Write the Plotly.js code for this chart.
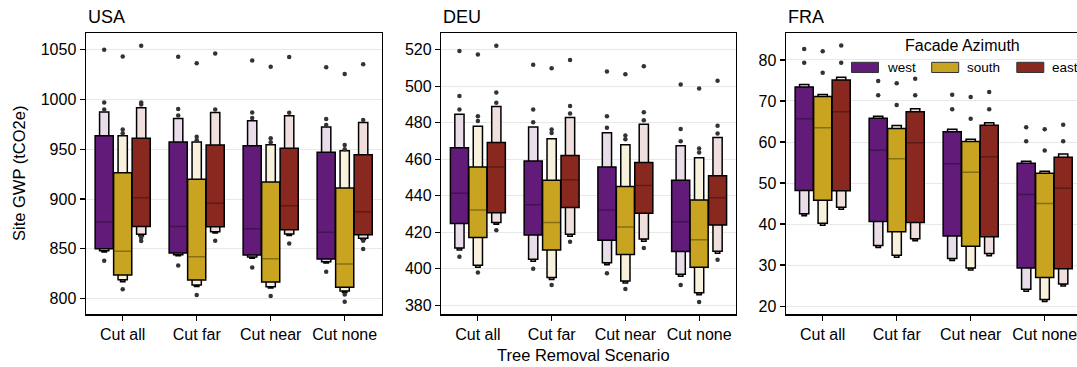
<!DOCTYPE html>
<html>
<head>
<meta charset="utf-8">
<script src="https://cdn.plot.ly/plotly-3.0.1.min.js"></script>
<style>
html,body{margin:0;padding:0;overflow:hidden;background:#fff;}
#chart{width:1100px;height:367px;}
</style>
</head>
<body>
<div id="chart"></div>
<script>
// ---------- DATA ----------
const scenarios = ["Cut all", "Cut far", "Cut near", "Cut none"];
const azimuths = ["west", "south", "east"];
const countries = ["USA", "DEU", "FRA"];
// order of 12 values: for each scenario -> west, south, east

const USA_q75 = [963.6, 926.5, 961.0, 957.3, 920.0, 954.3, 953.6, 917.1, 951.0, 947.0, 911.1, 944.6];
const USA_q25 = [850.2, 823.7, 872.6, 845.8, 818.7, 872.3, 843.8, 816.7, 869.3, 839.8, 811.4, 864.2];
const USA_med = [877.0, 847.5, 901.4, 872.6, 842.2, 895.7, 870.3, 840.1, 893.4, 866.6, 834.8, 887.3];
const USA_hi2 = [987.4, 963.6, 991.8, 981.0, 957.3, 987.0, 978.7, 954.6, 983.7, 972.4, 948.6, 977.0];
const USA_lo2 = [848.0, 819.0, 864.6, 844.2, 813.7, 867.3, 841.8, 812.0, 865.0, 837.1, 807.7, 860.6];
const USA_lo3 = [846.8, 817.0, 863.0, 843.0, 812.3, 866.0, 840.5, 810.6, 863.5, 835.8, 806.3, 859.3];
const USA_out = [
  [1050, 997, 990, 838], [1043.3, 970, 966, 809.5], [1054, 997, 995, 861, 858],
  [1043, 990.4, 984, 833.4], [1036.3, 962.6, 959, 803.7], [1046.3, 990, 858.2],
  [1039.3, 987, 981.5, 831.4], [1033, 961, 957, 802.7], [1042.6, 986.7, 855.5],
  [1032.3, 980.4, 974.4, 827], [1025.6, 954.3, 950, 804.3, 797], [1035.3, 979.4, 858.2, 850]
];

const DEU_q75 = [466.3, 455.7, 469.2, 459.0, 448.4, 462.0, 455.7, 445.1, 458.2, 448.4, 437.6, 450.9];
const DEU_q25 = [424.8, 417.1, 430.6, 418.4, 410.3, 433.5, 415.6, 407.8, 430.4, 409.4, 400.8, 423.9];
const DEU_med = [441.4, 432.1, 455.7, 435.0, 425.3, 448.7, 432.1, 422.8, 445.6, 425.7, 415.8, 438.9];
const DEU_hi2 = [484.7, 478.1, 488.9, 477.6, 471.2, 482.9, 474.5, 467.9, 479.2, 467.4, 460.8, 471.9];
const DEU_lo2 = [411.4, 401.9, 425.3, 405.2, 395.2, 418.9, 403.2, 393.3, 416.2, 397.0, 386.8, 409.6];
const DEU_lo3 = [410.2, 400.8, 424.3, 404.1, 394.1, 417.8, 402.1, 392.2, 415.1, 395.9, 385.7, 408.5];
const DEU_out = [
  [519.3, 494.6, 487.3, 406.5], [517.4, 483.6, 481, 397.9], [522.2, 496.6, 491, 421.1],
  [511.8, 487.3, 480.3, 400], [509.8, 476.3, 474.3, 391], [514.3, 489.1, 485.1, 414.7],
  [508.1, 483.6, 477.2, 397.5], [506.5, 473, 471, 388.8], [510.9, 485.8, 481.4, 411.4],
  [501, 476.5, 469.9, 391], [498.8, 465.9, 463.7, 381.8], [503, 478.3, 474.1, 404.9]
];

const FRA_q75 = [73.4, 71.1, 75.1, 65.8, 63.3, 67.4, 62.5, 60.1, 64.1, 54.8, 52.4, 56.3];
const FRA_q25 = [48.2, 45.8, 48.1, 40.6, 38.1, 40.4, 37.1, 34.6, 36.9, 29.3, 27.0, 29.1];
const FRA_med = [65.7, 63.5, 67.4, 58.0, 55.9, 59.8, 54.7, 52.6, 56.4, 47.2, 45.0, 48.7];
const FRA_hi2 = [74.0, 71.6, 75.8, 66.3, 64.0, 68.1, 63.1, 60.7, 64.7, 55.3, 52.9, 57.1];
const FRA_lo2 = [42.5, 40.2, 44.1, 34.8, 32.4, 36.4, 31.6, 29.3, 32.8, 24.1, 21.6, 25.4];
const FRA_lo3 = [42.0, 39.7, 43.6, 34.3, 31.9, 35.9, 31.1, 28.8, 32.3, 23.6, 21.1, 24.9];
const FRA_out = [
  [82.7, 79.3], [82.1, 76.9], [83.5, 79.3],
  [74.9, 71.4], [74.3, 69.0], [75.4, 71.4],
  [71.5, 68.0], [71.0, 65.7], [72.2, 68.0],
  [63.6, 60.2], [63.1, 57.9], [64.2, 60.2]
];

// ---------- STYLE ----------
const W = 1100, H = 367;
const mainColors = ["#631b7a", "#c8a421", "#88281e"];
const lightColors = ["#e8dde9", "#f8f2dc", "#efdfdd"];
const offsets = [-0.25, 0, 0.25];
const wMain = 0.245, w2 = 0.125, w3 = 0.06;
const FONT = "Liberation Sans, Arial, sans-serif";

const panels = [
  {name: "USA", q75: USA_q75, q25: USA_q25, med: USA_med, hi2: USA_hi2, lo2: USA_lo2, lo3: USA_lo3, out: USA_out,
   xa: "x", ya: "y", dom: [85.7, 381.7], range: [784.3, 1066.5], dtick: 50},
  {name: "DEU", q75: DEU_q75, q25: DEU_q25, med: DEU_med, hi2: DEU_hi2, lo2: DEU_lo2, lo3: DEU_lo3, out: DEU_out,
   xa: "x2", ya: "y2", dom: [441, 736], range: [375, 529], dtick: 20},
  {name: "FRA", q75: FRA_q75, q25: FRA_q25, med: FRA_med, hi2: FRA_hi2, lo2: FRA_lo2, lo3: FRA_lo3, out: FRA_out,
   xa: "x3", ya: "y3", dom: [785.7, 1081.7], range: [18, 86.5], dtick: 10}
];

const traces = [];
panels.forEach(p => {
  azimuths.forEach((az, j) => {
    const idx = scenarios.map((s, i) => i * 3 + j);
    const xs = scenarios.map((s, i) => i + offsets[j]);
    const line = {color: "#000", width: 1.5};
    // level 3 (bottom tiny)
    traces.push({type: "bar", xaxis: p.xa, yaxis: p.ya, x: xs,
      base: idx.map(k => p.lo3[k]), y: idx.map(k => p.lo2[k] - p.lo3[k]),
      width: xs.map(() => w3), marker: {color: lightColors[j], line: line},
      showlegend: false, hoverinfo: "skip"});
    // level 2
    traces.push({type: "bar", xaxis: p.xa, yaxis: p.ya, x: xs,
      base: idx.map(k => p.lo2[k]), y: idx.map(k => p.hi2[k] - p.lo2[k]),
      width: xs.map(() => w2), marker: {color: lightColors[j], line: line},
      showlegend: false, hoverinfo: "skip"});
    // main box
    traces.push({type: "bar", xaxis: p.xa, yaxis: p.ya, x: xs,
      base: idx.map(k => p.q25[k]), y: idx.map(k => p.q75[k] - p.q25[k]),
      width: xs.map(() => wMain), marker: {color: mainColors[j], line: line},
      name: az, showlegend: false, hoverinfo: "skip"});
    // median
    const mx = [], my = [];
    idx.forEach((k, i) => {
      mx.push(xs[i] - wMain / 2 + 0.01, xs[i] + wMain / 2 - 0.01, null);
      my.push(p.med[k], p.med[k], null);
    });
    traces.push({type: "scatter", mode: "lines", xaxis: p.xa, yaxis: p.ya, x: mx, y: my,
      line: {color: "rgba(0,0,0,0.32)", width: 1.5}, showlegend: false, hoverinfo: "skip"});
    // outliers
    const ox = [], oy = [];
    idx.forEach((k, i) => {
      p.out[k].forEach(v => { ox.push(xs[i]); oy.push(v); });
    });
    traces.push({type: "scatter", mode: "markers", xaxis: p.xa, yaxis: p.ya, x: ox, y: oy,
      marker: {color: "#333333", size: 4.5}, showlegend: false, hoverinfo: "skip"});
  });
});

const layout = {
  width: W, height: H,
  margin: {l: 0, r: 0, t: 0, b: 0},
  paper_bgcolor: "#fff", plot_bgcolor: "#fff",
  barmode: "overlay",
  showlegend: false,
  font: {family: FONT, size: 16, color: "#000"},
  shapes: [], annotations: []
};

const yTop = 1 - 33.3 / H, yBot = 1 - 314.3 / H;
panels.forEach((p, i) => {
  const sfx = i === 0 ? "" : String(i + 1);
  layout["xaxis" + sfx] = {
    domain: [p.dom[0] / W, p.dom[1] / W], anchor: "y" + sfx,
    range: [-0.5, 3.5], tickvals: [0, 1, 2, 3], ticktext: scenarios,
    showgrid: false, zeroline: false, showline: true, mirror: true,
    linecolor: "#000", linewidth: 1.2, ticks: "outside", ticklen: 5, tickwidth: 1.2, tickcolor: "#000",
    tickfont: {family: FONT, size: 16, color: "#000"}, fixedrange: true
  };
  layout["yaxis" + sfx] = {
    domain: [yBot, yTop], anchor: "x" + sfx,
    range: p.range, dtick: p.dtick, tick0: 0,
    showgrid: true, gridcolor: "#e8e8e8", gridwidth: 1, zeroline: false,
    showline: true, mirror: true, linecolor: "#000", linewidth: 1.2,
    ticks: "outside", ticklen: 5, tickwidth: 1.2, tickcolor: "#000",
    tickfont: {family: FONT, size: 16, color: "#000"}, fixedrange: true
  };
  layout.annotations.push({
    text: p.name, xref: "paper", yref: "paper", x: p.dom[0] / W, y: 1 - 17 / H,
    xanchor: "left", yanchor: "middle", showarrow: false,
    font: {family: FONT, size: 18, color: "#000"}
  });
});

// axis titles
layout.annotations.push({
  text: "Site GWP (tCO2e)", xref: "paper", yref: "paper", x: 19 / W, y: 1 - 174 / H,
  xanchor: "center", yanchor: "middle", textangle: -90, showarrow: false,
  font: {family: FONT, size: 16.5, color: "#000"}
});
layout.annotations.push({
  text: "Tree Removal Scenario", xref: "paper", yref: "paper", x: 583 / W, y: 1 - 355 / H,
  xanchor: "center", yanchor: "middle", showarrow: false,
  font: {family: FONT, size: 16.5, color: "#000"}
});

// legend (drawn manually)
layout.annotations.push({
  text: "Facade Azimuth", xref: "paper", yref: "paper", x: 962 / W, y: 1 - 46 / H,
  xanchor: "center", yanchor: "middle", showarrow: false,
  font: {family: FONT, size: 16, color: "#000"}
});
const legX = [851.5, 931.7, 1016.8];
azimuths.forEach((az, j) => {
  layout.shapes.push({
    type: "rect", xref: "paper", yref: "paper",
    x0: legX[j] / W, x1: (legX[j] + 27) / W, y0: 1 - 72.5 / H, y1: 1 - 62.3 / H,
    fillcolor: mainColors[j], line: {color: "#333", width: 1}
  });
  layout.annotations.push({
    text: az, xref: "paper", yref: "paper", x: (legX[j] + 33) / W, y: 1 - 67.5 / H,
    xanchor: "left", yanchor: "middle", showarrow: false,
    font: {family: FONT, size: 13.5, color: "#000"}
  });
});

Plotly.newPlot("chart", traces, layout, {staticPlot: true, displayModeBar: false});
</script>
</body>
</html>
